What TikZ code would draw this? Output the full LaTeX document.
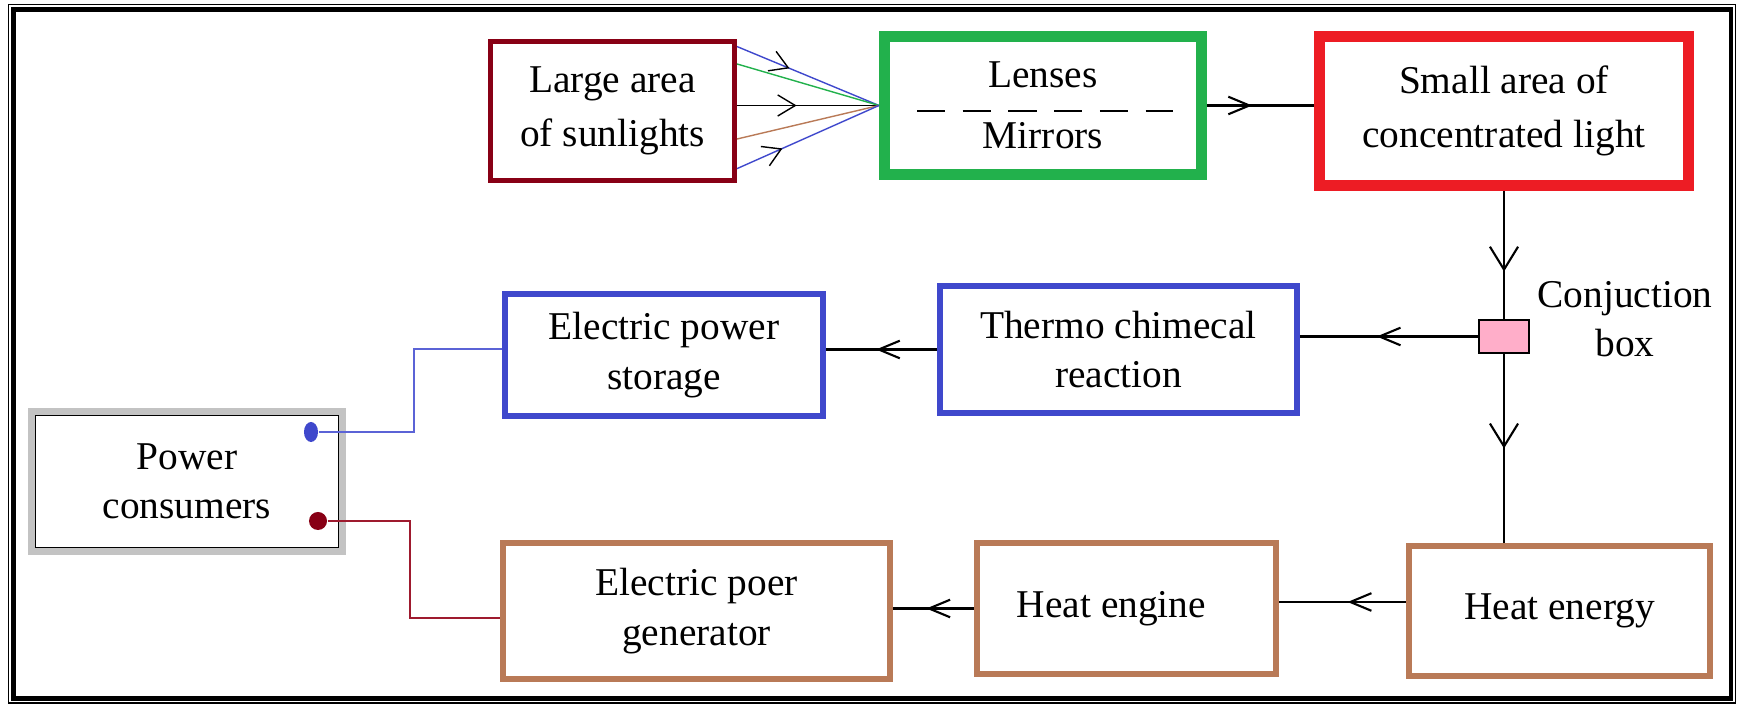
\documentclass[tikz,border=0pt]{standalone}
\usepackage{fontspec}
\setmainfont{Liberation Serif}
\usetikzlibrary{arrows.meta,positioning,calc,shapes.geometric,decorations.markings}
\definecolor{sunred}{HTML}{880015}
\definecolor{lensgreen}{HTML}{22B14C}
\definecolor{lightred}{HTML}{ED1C24}
\definecolor{storeblue}{HTML}{3F48CC}
\definecolor{heatbrown}{HTML}{B97A57}
\definecolor{boxpink}{HTML}{FFAEC9}
\definecolor{framegray}{HTML}{C3C3C3}
\definecolor{wireblue}{HTML}{5B63D6}
\definecolor{wirered}{HTML}{9E1A2E}

\begin{document}
\begin{tikzpicture}[x=0.01cm, y=-0.01cm,
  every node/.style={font=\fontsize{11.2}{14}\selectfont, align=center},
  block/.style={rectangle, draw, fill=white, inner sep=0pt},
  link/.style={line width=0.6pt},
  flow/.style={link, postaction={decorate}, decoration={markings,
     mark=at position #1 with {\arrow{Straight Barb[length=6pt,width=5pt]}}}},
  drop/.style={link, postaction={decorate}, decoration={markings,
     mark=at position #1 with {\arrow{Straight Barb[length=6.5pt,width=8pt]}}}},
  ray/.style={line width=0.4pt},
  raytip/.style={postaction={decorate}, decoration={markings,
     mark=at position #1 with {\arrow[black]{Straight Barb[length=5pt,width=6pt]}}}}
]
  \useasboundingbox (0,0) rectangle (1739,704);
  % frame
  \draw[line width=0.3pt] (8.5,4.5) rectangle (1735.5,703);
  \draw[line width=1.2pt] (13.5,9.5) rectangle (1731,698.5);
  % top row
  \node[block, draw=sunred, line width=1.4pt, minimum width=2.44cm, minimum height=1.39cm] (sun) at (612.5,111) {Large area\\[1.5pt]of sunlights};
  \node[block, draw=lensgreen, line width=3.1pt, minimum width=3.17cm, minimum height=1.38cm] (lens) at (1043,105.5) {Lenses\\[3.5pt]Mirrors};
  \node[block, draw=lightred, line width=3.1pt, minimum width=3.68cm, minimum height=1.49cm] (small) at (1504,111) {Small area of\\[1.5pt]concentrated light};
  \draw[dashed, dash pattern=on 8pt off 5pt, line width=0.5pt] (917,111) -- (1173,111);
  % rays
  \draw[ray, storeblue, raytip=0.37] ([yshift=0.644cm]sun.east) -- (lens.west);
  \draw[ray, lensgreen] ([yshift=0.47cm]sun.east) -- (lens.west);
  \draw[ray, raytip=0.42] (sun.east |- lens.west) -- (lens.west);
  \draw[ray, heatbrown] ([yshift=-0.28cm]sun.east) -- (lens.west);
  \draw[ray, storeblue, raytip=0.32] ([yshift=-0.576cm]sun.east) -- (lens.west);
  \draw[flow=0.42] (lens.east) -- (lens.east -| small.west);
  % conjunction
  \node[rectangle, draw, line width=0.6pt, fill=boxpink, minimum width=0.5cm, minimum height=0.33cm, inner sep=0pt] (jbox) at (1504,336.5) {};
  \node (jlabel) at (1625,319) {Conjuction\\box};
  % middle row
  \node[block, draw=storeblue, line width=1.8pt, minimum width=3.57cm, minimum height=1.27cm] (thermo) at (1118.5,349.5) {Thermo chimecal\\reaction};
  \node[block, draw=storeblue, line width=1.8pt, minimum width=3.18cm, minimum height=1.22cm] (store) at (664,355) {Electric power\\storage};
  % bottom row
  \node[block, draw=heatbrown, line width=1.8pt, minimum width=3.87cm, minimum height=1.36cm] (gen) at (696.5,611) {Electric poer\\generator};
  \node[block, draw=heatbrown, line width=1.8pt, minimum width=2.99cm, minimum height=1.31cm] (engine) at (1126.5,608.5) {\hspace*{-0.3cm}Heat engine};
  \node[block, draw=heatbrown, line width=1.8pt, minimum width=3.01cm, minimum height=1.30cm] (energy) at (1559.5,611) {Heat energy};
  % consumers
  \node[block, draw=framegray, line width=2pt, minimum width=3.11cm, minimum height=1.40cm] (pc) at (187,481.5) {Power\\consumers};
  \draw[line width=0.5pt] ([shift={(7.5,7.5)}]pc.north west) rectangle ([shift={(-7.5,-7.5)}]pc.south east);
  \node[ellipse, fill=storeblue, inner sep=0pt, minimum width=0.14cm, minimum height=0.2cm] (bdot) at (311,432) {};
  \node[circle, fill=sunred, inner sep=0pt, minimum size=0.18cm] (rdot) at (318,521) {};
  % connectors
  \draw[drop=0.63] (small) -- (jbox);
  \draw[drop=0.5] (jbox) -- (jbox |- energy.north);
  \draw[flow=0.57] (jbox) -- (jbox -| thermo.east);
  \draw[flow=0.55] (thermo.west) -- (thermo.west -| store.east);
  \draw[flow=0.46] ([yshift=0.09cm]energy.west) -- ([yshift=0.09cm]energy.west -| engine.east);
  \draw[flow=0.59] (engine.west) -- (engine.west -| gen.east);
  \coordinate (bbend) at (414,432);
  \coordinate (rbend) at (410,521);
  \draw[wireblue, line width=0.5pt] (bdot) -- (bbend) |- ([yshift=0.06cm]store.west);
  \draw[wirered, line width=0.5pt] (rdot) -- (rbend) |- ([yshift=-0.07cm]gen.west);
\end{tikzpicture}
\end{document}
